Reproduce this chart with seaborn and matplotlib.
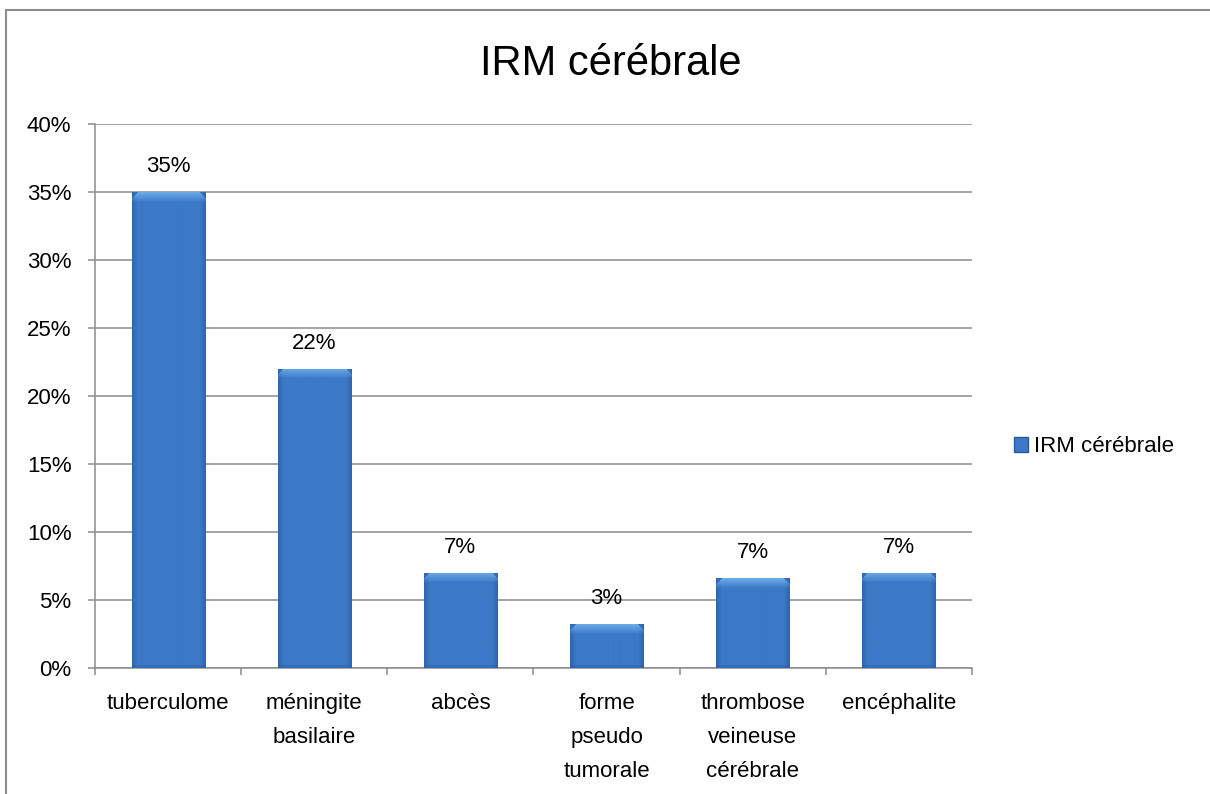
import numpy as np
import pandas as pd
import matplotlib
matplotlib.use("Agg")
import matplotlib.pyplot as plt
import seaborn as sns
from matplotlib.patches import Rectangle, Patch
from matplotlib.colors import to_rgb

# ---- data ----
categories = ["tuberculome", "méningite\nbasilaire", "abcès",
              "forme\npseudo\ntumorale", "thrombose\nveineuse\ncérébrale", "encéphalite"]
values = [35, 22, 7, 3.2, 6.6, 7]
value_labels = ["35%", "22%", "7%", "3%", "7%", "7%"]
yticks = [0, 5, 10, 15, 20, 25, 30, 35, 40]
ytick_labels = ["0%", "5%", "10%", "15%", "20%", "25%", "30%", "35%", "40%"]
series_name = "IRM cérébrale"
title = "IRM cérébrale"

sns.set_style("white")
plt.rcParams['font.family'] = ['Liberation Sans', 'DejaVu Sans']
plt.rcParams['text.color'] = 'black'
plt.rcParams['xtick.color'] = 'black'
plt.rcParams['ytick.color'] = 'black'

FS = 16
W, H = 1210, 794
fig = plt.figure(figsize=(W / 100, H / 100), dpi=100)
ax = fig.add_axes([95 / W, 1 - 668 / H, (972 - 95) / W, (668 - 124) / H])

main = "#3B78C6"
grid_c = "#8C8C8C"
df = pd.DataFrame({"cat": categories, "val": values})
sns.barplot(data=df, x="cat", y="val", color=main, saturation=1, width=0.5,
            ax=ax, edgecolor="none", zorder=3)

ax.set_xlim(-0.5, len(categories) - 0.5)
ax.set_ylim(0, 40)
ax.set_yticks(yticks)
ax.set_yticklabels(ytick_labels)
ax.set_xlabel("")
ax.set_ylabel("")
ax.yaxis.grid(True, color=grid_c, lw=1.1)
ax.xaxis.grid(False)
ax.set_axisbelow(True)
for s in ["top", "right"]:
    ax.spines[s].set_visible(False)
for s in ["left", "bottom"]:
    ax.spines[s].set_color(grid_c)
    ax.spines[s].set_linewidth(1.1)

ax.tick_params(axis="y", which="major", left=True, length=5, width=1.1,
               color=grid_c, pad=12, labelsize=FS, labelcolor="black")
ax.tick_params(axis="x", which="major", bottom=False, length=0, pad=18,
               labelsize=FS, labelcolor="black")
ax.set_xticks(np.arange(-0.5, len(categories)), minor=True)
ax.tick_params(axis="x", which="minor", bottom=True, length=5, width=1.1,
               color=grid_c, direction="out")
for lab in ax.get_xticklabels():
    lab.set_linespacing(1.8)

# value labels
ax.bar_label(ax.containers[0], labels=value_labels, padding=11, fontsize=FS,
             color="black")

# gradient shading for bars
c_main = np.array(to_rgb(main))
c_dark = np.array(to_rgb("#2A5A9C"))
c_light = np.array(to_rgb("#78B6F0"))
fig.canvas.draw()
for p in list(ax.containers[0]):
    x0, y0, w, h = p.get_x(), p.get_y(), p.get_width(), p.get_height()
    h_px = ax.transData.transform((0, h))[1] - ax.transData.transform((0, 0))[1]
    w_px = ax.transData.transform((w, 0))[0] - ax.transData.transform((0, 0))[0]
    nr, nc = max(int(round(h_px)), 2), max(int(round(w_px)), 2)
    img = np.ones((nr, nc, 3)) * c_main
    cols = np.arange(nc)
    edge = np.clip(1 - np.minimum(cols, nc - 1 - cols) / 5.0, 0, 1)
    img = img * (1 - 0.6 * edge[None, :, None]) + c_dark * (0.6 * edge[None, :, None])
    cap = min(10, nr // 2)
    for r in range(cap):
        f = (1 - r / cap) * 0.8
        lo = int(max(0, 6 - r))
        img[r, lo:nc - lo] = img[r, lo:nc - lo] * (1 - f) + c_light * f
    bot = min(3, nr // 3)
    for r in range(bot):
        img[nr - 1 - r] = img[nr - 1 - r] * 0.6 + c_dark * 0.4
    im = ax.imshow(img, extent=(x0, x0 + w, y0, y0 + h), origin="upper",
                   aspect="auto", zorder=3.5, interpolation="bilinear")
    im.set_clip_path(p)
ax.set_xlim(-0.5, len(categories) - 0.5)
ax.set_ylim(0, 40)

# legend
handle = Patch(facecolor=main, edgecolor="#2A5A9C")
fig.legend(handles=[handle], labels=[series_name], loc="center left",
           bbox_to_anchor=(1014 / W, 1 - 447 / H), frameon=False,
           handlelength=0.62, handleheight=0.62, handletextpad=0.3,
           borderpad=0, borderaxespad=0, fontsize=FS, labelcolor="black")

# title
fig.text(611 / W, 1 - 64 / H, title, ha="center", va="center", fontsize=30,
         color="black")

# outer border
fig.add_artist(Rectangle((6 / W, -0.1), 1.2, (1 - 10 / H) + 0.1,
                         transform=fig.transFigure, fill=False,
                         edgecolor=grid_c, lw=1.5))

fig.savefig("out.png", dpi=100)
